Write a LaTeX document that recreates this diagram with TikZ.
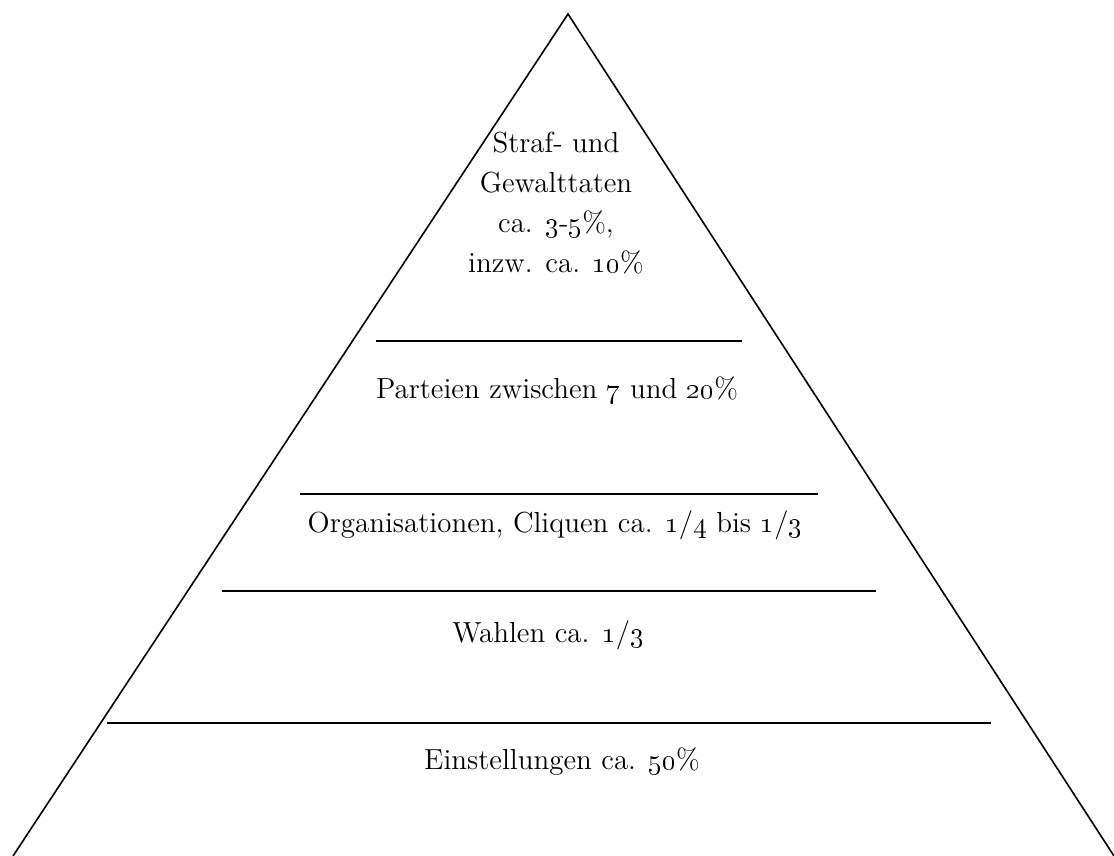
\documentclass[tikz,border=0pt]{standalone}
\usepackage{tikz}
\usetikzlibrary{positioning}

\begin{document}
\begin{tikzpicture}[
    x=0.5pt, y=-0.5pt,
    edge/.style={draw=black, line width=0.8pt},
    layer/.style={draw=black, line width=1pt},
    label/.style={align=center, font=\fontsize{14.5}{20}\selectfont, inner sep=0pt}
]
\useasboundingbox (0,0) rectangle (1114,856);

% Pyramid
\coordinate (apex) at (568,14);
\coordinate (baseleft) at (13,856);
\coordinate (baseright) at (1114,856);
\draw[edge] (baseleft) -- (apex) -- (baseright);

% Layer lines
\coordinate (l1a) at (376,341); \coordinate (l1b) at (742,341);
\coordinate (l2a) at (300,494); \coordinate (l2b) at (818,494);
\coordinate (l3a) at (222,591); \coordinate (l3b) at (876,591);
\coordinate (l4a) at (107,723); \coordinate (l4b) at (991,723);
\draw[layer] (l1a) -- (l1b);
\draw[layer] (l2a) -- (l2b);
\draw[layer] (l3a) -- (l3b);
\draw[layer] (l4a) -- (l4b);

% Labels
\node[label] (gewalt) at (556,203) {Straf- und\\Gewalttaten\\ca. \oldstylenums{3}-\oldstylenums{5}\%,\\inzw. ca. \oldstylenums{10}\%};
\node[label] (parteien) at (557,390) {Parteien zwischen \oldstylenums{7} und \oldstylenums{20}\%};
\node[label] (orga) at (555,525) {Organisationen, Cliquen ca. \oldstylenums{1}/\oldstylenums{4} bis \oldstylenums{1}/\oldstylenums{3}};
\node[label] (wahlen) at (548,635) {Wahlen ca. \oldstylenums{1}/\oldstylenums{3}};
\node[label] (einstellung) at (562,762) {Einstellungen ca. \oldstylenums{50}\%};

\end{tikzpicture}
\end{document}
